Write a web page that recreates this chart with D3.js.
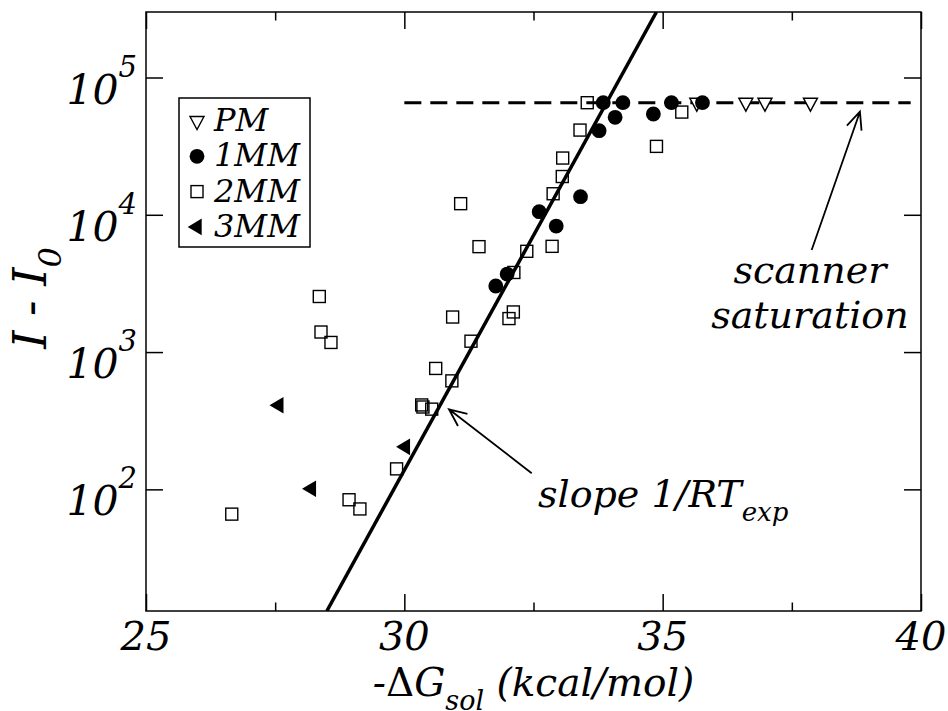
<!DOCTYPE html>
<html><head><meta charset="utf-8">
<script src="https://cdn.jsdelivr.net/npm/d3@7"></script>
<style>
html,body{margin:0;padding:0;background:#fff;}
</style></head><body><div id="chart"></div>
<script>
// ---- data ----
const pmX=[35.66,36.61,36.98,37.86];
const pmY=[65535,65535,65535,65535];
const mm1X=[31.77,31.99,32.61,32.94,33.41,33.77,33.85,34.08,34.23,34.82,35.17,35.77];
const mm1Y=[3030,3700,10530,8280,13540,40970,65535,51290,65535,54200,65535,65535];
const mm2X=[26.66,28.354,28.387,28.58,28.93,29.14,29.85,30.336,30.36,30.53,30.607,30.935,30.92,31.29,31.445,31.09,32.11,32.025,32.12,32.37,32.86,32.88,33.057,33.065,33.4,33.54,34.88,35.37];
const mm2Y=[66,2540,1400,1175,84,72,141,412,398,384,760,1800,617,1200,5860,12050,1960,1754,3800,5420,5890,14230,19000,25900,41400,65535,31500,56000];
const mm3X=[27.57,28.2,30.02];
const mm3Y=[410,101,204];
const fitX=[28.5,34.88];
const fitY=[13,3.0e5];
const satX=[30.0,39.8];
const satY=[65535,65535];
const xTicks=[25,30,35,40];
const xMinor=[27.5,32.5,37.5];
const yTicks=[100,1000,10000,100000];
const yTickExp=["2","3","4","5"];
const legendLabels=["PM","1MM","2MM","3MM"];
const slopeArrow={x:[32.465,30.864],y:[131,383]};
const satArrow={x:[37.884,38.818],y:[5540,56360]};
const slopeText={x:32.587,y:74.3};
const satText={x:37.85,y:3185};

// ---- layout ----
const FONT="DejaVu Serif";
const W=948,H=711;
const L=146,R=921,T=12,B=611;
const svg=d3.select("#chart").append("svg").attr("width",W).attr("height",H);
const x=d3.scaleLinear().domain([25,40]).range([L,R]);
const y=d3.scaleLog().domain([13,3e5]).range([B,T]);
function itext(parent,px,py,size,anchor,extra){
  return parent.append("text")
    .attr("transform",`translate(${px},${py})${extra||""}`)
    .attr("text-anchor",anchor||"start")
    .attr("font-family",FONT).attr("font-style","italic").attr("font-size",size).attr("fill","#000");
}

svg.append("defs").append("clipPath").attr("id","clip")
  .append("rect").attr("x",L).attr("y",T).attr("width",R-L).attr("height",B-T);

svg.append("rect").attr("x",L).attr("y",T).attr("width",R-L).attr("height",B-T)
  .attr("fill","none").attr("stroke","#000").attr("stroke-width",1.5);

function styleAxis(g){g.select(".domain").remove();g.selectAll(".tick line").attr("stroke","#000").attr("stroke-width",1.5);g.selectAll("text").remove();}
const axes=[
  [d3.axisBottom(x).tickValues(xTicks).tickSize(-17),`translate(0,${B})`],
  [d3.axisBottom(x).tickValues(xMinor).tickSize(-8.5),`translate(0,${B})`],
  [d3.axisTop(x).tickValues(xTicks).tickSize(-17),`translate(0,${T})`],
  [d3.axisTop(x).tickValues(xMinor).tickSize(-8.5),`translate(0,${T})`],
  [d3.axisLeft(y).tickValues(yTicks).tickSize(-17),`translate(${L},0)`],
  [d3.axisRight(y).tickValues(yTicks).tickSize(-17),`translate(${R},0)`]
];
axes.forEach(([ax,tr])=>svg.append("g").attr("transform",tr).call(ax.tickSizeOuter(0)).call(styleAxis));

// x tick labels
xTicks.forEach(v=>itext(svg,x(v),650,40,"middle").text(d3.format("d")(v)));
// y tick labels 10^n
yTicks.forEach((v,i)=>{
  const t=itext(svg,L-9,y(v)+26,41,"end");
  t.append("tspan").text("10");
  t.append("tspan").attr("font-size",29).attr("dy",-27).text(yTickExp[i]);
});

// axis titles
const xt=itext(svg,(L+R)/2,696,39,"middle");
xt.append("tspan").text("-");
xt.append("tspan").attr("font-style","normal").text("\u0394");
xt.append("tspan").text("G");
xt.append("tspan").attr("font-size",27).attr("dy",14).text("sol");
xt.append("tspan").attr("dy",-14).text(" (kcal/mol)");

const yt=itext(svg,46,298,46,"middle"," rotate(-90)");
yt.append("tspan").text("I - I");
yt.append("tspan").attr("font-size",32).attr("dy",15).text("0");

// lines
const plot=svg.append("g").attr("clip-path","url(#clip)");
const line=d3.line().x(d=>x(d[0])).y(d=>y(d[1]));
plot.append("path").datum(satX.map((v,i)=>[v,satY[i]])).attr("d",line)
  .attr("fill","none").attr("stroke","#000").attr("stroke-width",3).attr("stroke-dasharray","17,9");
plot.append("path").datum(fitX.map((v,i)=>[v,fitY[i]])).attr("d",line)
  .attr("fill","none").attr("stroke","#000").attr("stroke-width",3.5);

// symbols
function drawSym(g,type,cx,cy){
  if(type==="PM"){
    g.append("path").attr("d",`M${cx-7},${cy-4.5}L${cx+7},${cy-4.5}L${cx},${cy+8.5}Z`)
     .attr("fill","#fff").attr("stroke","#000").attr("stroke-width",1.4);
  } else if(type==="1MM"){
    g.append("circle").attr("cx",cx).attr("cy",cy).attr("r",7.4).attr("fill","#000");
  } else if(type==="2MM"){
    g.append("rect").attr("x",cx-6).attr("y",cy-6).attr("width",12).attr("height",12)
     .attr("fill","none").attr("stroke","#000").attr("stroke-width",1.4);
  } else {
    g.append("path").attr("d",`M${cx+4.7},${cy-8.3}L${cx+4.7},${cy+8.3}L${cx-9.3},${cy}Z`).attr("fill","#000");
  }
}
const mg=svg.append("g");
mm2X.forEach((v,i)=>drawSym(mg,"2MM",x(v),y(mm2Y[i])));
mm3X.forEach((v,i)=>drawSym(mg,"3MM",x(v),y(mm3Y[i])));
pmX.forEach((v,i)=>drawSym(mg,"PM",x(v),y(pmY[i])));
mm1X.forEach((v,i)=>drawSym(mg,"1MM",x(v),y(mm1Y[i])));

// arrows
function arrow(a){
  const x1=x(a.x[0]),y1=y(a.y[0]),x2=x(a.x[1]),y2=y(a.y[1]);
  const ang=Math.atan2(y2-y1,x2-x1),len=19,ha=0.42;
  svg.append("path").attr("d",`M${x1},${y1}L${x2},${y2}M${x2-len*Math.cos(ang-ha)},${y2-len*Math.sin(ang-ha)}L${x2},${y2}L${x2-len*Math.cos(ang+ha)},${y2-len*Math.sin(ang+ha)}`)
    .attr("fill","none").attr("stroke","#000").attr("stroke-width",1.8);
}
arrow(slopeArrow);
arrow(satArrow);

// annotation text
const st=itext(svg,x(slopeText.x),y(slopeText.y),38,"start");
st.append("tspan").text("slope 1/RT");
st.append("tspan").attr("font-size",26).attr("dy",14).text("exp");
itext(svg,x(satText.x),y(satText.y),38,"middle").text("scanner");
itext(svg,x(satText.x),y(satText.y)+45,38,"middle").text("saturation");

// legend
const lg=svg.append("g");
lg.append("rect").attr("x",179).attr("y",98).attr("width",131).attr("height",149)
  .attr("fill","#fff").attr("stroke","#000").attr("stroke-width",1.5);
legendLabels.forEach((lab,i)=>{
  const by=131+i*35.3;
  drawSym(lg,lab,197,by-10);
  itext(lg,214,by,32,"start").text(lab);
});
</script></body></html>
